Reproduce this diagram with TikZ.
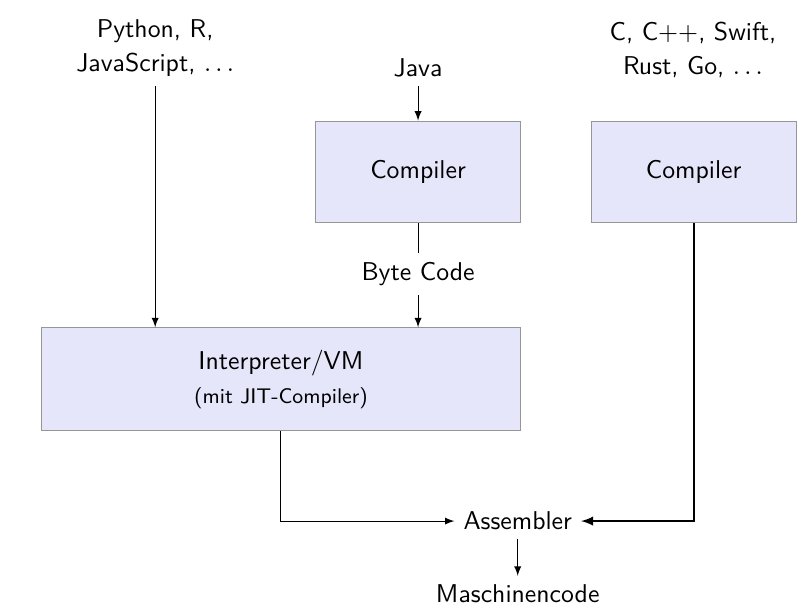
\documentclass[11pt,tikz,border=0pt]{standalone}
\usetikzlibrary{arrows}
\definecolor{boxfill}{RGB}{230,230,250}
\definecolor{boxline}{RGB}{150,150,150}
\tikzset{
	stage/.style={draw=boxline, fill=boxfill, minimum width=3.06cm, minimum height=1.52cm},
	lbl/.style={align=center}
}

\begin{document}
\begin{tikzpicture}[font=\sffamily]
		\useasboundingbox (0,0) rectangle (12.02,-9.13);
		% sources
		\node[lbl] (scripts) at (2.32,-0.72) {Python, R,\\[1pt]JavaScript, $\ldots$};
		\node[lbl] (java) at (6.25,-1.02) {Java};
		\node[lbl] (native) at (10.36,-0.75) {C, C++, Swift,\\[1pt]Rust, Go, $\ldots$};
		% boxes
		\node[stage] (comp1) at (6.25,-2.57) {Compiler};
		\node[stage] (comp2) at (10.37,-2.57) {Compiler};
		\node[lbl] (bytecode) at (6.25,-4.10) {Byte Code};
		\node[stage, minimum width=7.17cm, minimum height=1.54cm, align=center] (interp) at (4.20,-5.67)
			{Interpreter/VM\\[1pt] {\footnotesize (mit JIT-Compiler)}};
		\node (asm) at (7.74,-7.79) {Assembler};
		\node (mcode) at (7.74,-8.88) {Maschinencode};
		%%
		\draw[-latex] (java)--(comp1);
		\draw (comp1)--(bytecode);
		\draw[-latex] (bytecode)--(bytecode |- interp.north);
		\draw[-latex] (scripts)--(scripts |- interp.north);
		\draw[-latex] (interp.south) |- (asm.west);
		\draw[thick,-latex] (comp2.south) |- (asm.east);
		\draw[-latex] (asm)--(mcode);
		
	\end{tikzpicture}
\end{document}
